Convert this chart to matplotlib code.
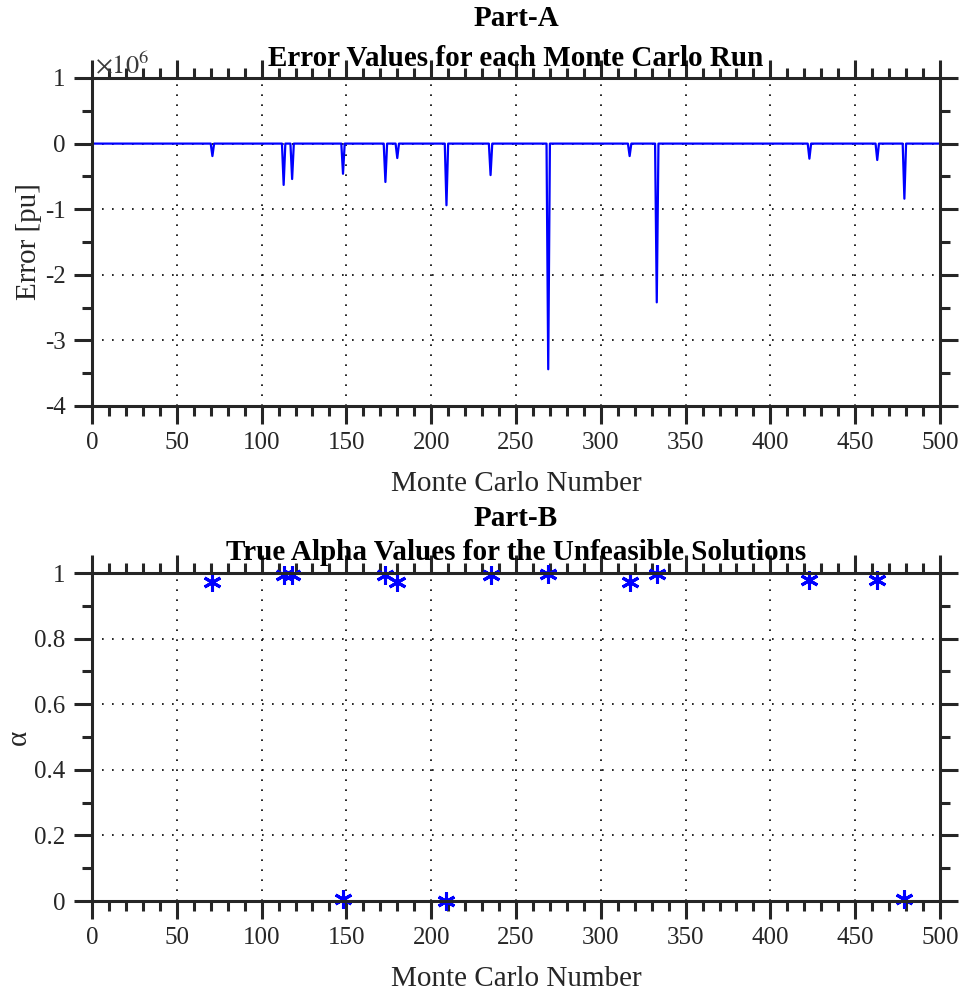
import numpy as np
import matplotlib
matplotlib.use("Agg")
import matplotlib.pyplot as plt
from matplotlib.ticker import MultipleLocator, FuncFormatter

plt.rcParams['font.family'] = ['Liberation Serif', 'DejaVu Serif']
plt.rcParams['axes.unicode_minus'] = False
plt.rcParams['mathtext.fontset'] = 'stix'

# monte carlo runs that failed, with their error (x1e6 pu) and true alpha
n_runs = 500
bad_runs = [71, 113, 118, 148, 173, 180, 209, 235, 269, 317, 333, 423, 463, 479]
bad_error = [-0.19, -0.63, -0.54, -0.46, -0.585, -0.22, -0.94, -0.48,
             -3.44, -0.19, -2.42, -0.23, -0.25, -0.84]
bad_alpha = [0.973, 0.993, 0.993, 0.005, 0.993, 0.973, 0.001, 0.993,
             0.997, 0.973, 0.997, 0.98, 0.98, 0.005]

runs = np.arange(1, n_runs + 1)
error = np.zeros(n_runs)
error[np.array(bad_runs) - 1] = np.array(bad_error) * 1e6

axcol = '#262626'
fs = 18
lfs = 21

fig = plt.figure(figsize=(9.67, 9.92), dpi=100)
ax_h = 328 / 992
ax1 = fig.add_axes([92/967, 1 - 406/992, 848/967, ax_h])
ax2 = fig.add_axes([92/967, 1 - 901/992, 848/967, ax_h])


def style(ax):
    for s in ax.spines.values():
        s.set_linewidth(2.2)
        s.set_color(axcol)
    ax.tick_params(which='both', direction='out', top=True, right=True,
                   colors=axcol, labelsize=fs, width=2.2)
    ax.tick_params(which='major', length=13, pad=6)
    ax.tick_params(which='minor', length=7)
    ax.grid(True, which='major', linestyle=(0, (1, 5)), color='black',
            linewidth=1.2)
    ax.set_axisbelow(True)
    ax.set_xlim(0, 500)
    ax.xaxis.set_major_locator(MultipleLocator(50))
    ax.xaxis.set_minor_locator(MultipleLocator(10))
    ax.set_xlabel('Monte Carlo Number', fontsize=lfs, color=axcol, labelpad=12)


def two_line_title(ax, top, bottom, dy1, dy2):
    # dy in pixels above the top of the axes
    ax.text(0.5, 1 + dy1 / 328, top, transform=ax.transAxes, ha='center',
            va='center', fontsize=lfs, fontweight='bold')
    ax.text(0.5, 1 + dy2 / 328, bottom, transform=ax.transAxes, ha='center',
            va='center', fontsize=lfs, fontweight='bold')


# error trace
ax1.plot(runs, error, color='blue', linewidth=1.6)
style(ax1)
ax1.set_ylim(-4e6, 1e6)
ax1.yaxis.set_major_locator(MultipleLocator(1e6))
ax1.yaxis.set_minor_locator(MultipleLocator(0.5e6))
ax1.yaxis.set_major_formatter(FuncFormatter(lambda v, p: '%d' % round(v / 1e6)))
ax1.set_ylabel('Error [pu]', fontsize=lfs, color=axcol, labelpad=2)
ax1.text(3 / 848, 1 + 13 / 328, r'$\times10^{6}$', transform=ax1.transAxes,
         fontsize=fs + 1, color='#3a3a3a', ha='left', va='center')
two_line_title(ax1, 'Part-A', 'Error Values for each Monte Carlo Run', 60, 20)

# alpha of each unfeasible solution
ax2.plot(bad_runs, bad_alpha, linestyle='none', marker=(6, 2, 0),
         markersize=13, markeredgewidth=2.2, color='blue', clip_on=False)
style(ax2)
ax2.set_ylim(0, 1)
ax2.yaxis.set_major_locator(MultipleLocator(0.2))
ax2.yaxis.set_minor_locator(MultipleLocator(0.1))
ax2.yaxis.set_major_formatter(FuncFormatter(lambda v, p: '%g' % round(v, 1)))
ax2.set_ylabel('α', fontsize=lfs, color=axcol, labelpad=2)
two_line_title(ax2, 'Part-B', 'True Alpha Values for the Unfeasible Solutions',
               54, 20)

fig.savefig('out.png', dpi=100)
